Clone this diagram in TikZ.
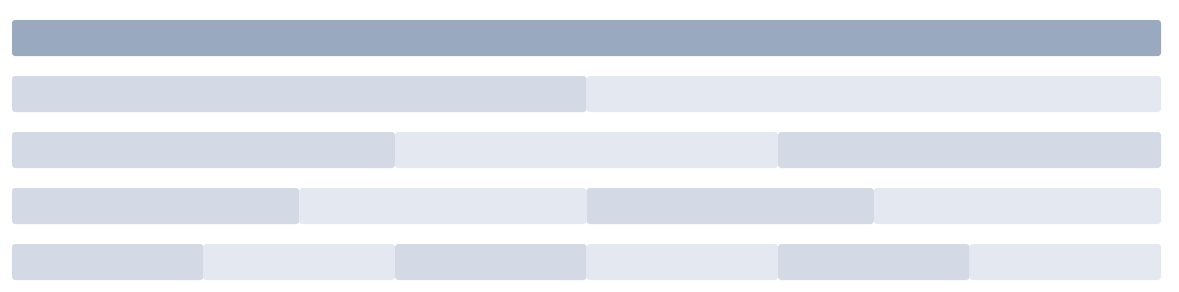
\documentclass[tikz,border=0pt]{standalone}
\definecolor{topc}{RGB}{153,169,192}
\definecolor{darkc}{RGB}{211,218,229}
\definecolor{lightc}{RGB}{227,232,241}
\begin{document}
\begin{tikzpicture}[x=1pt,y=-1pt,
  seg/.style={rounded corners=3pt, inner sep=0pt, outer sep=0pt, minimum height=36pt, draw=none}]
\fill[white] (0,0) rectangle (1179,292);
\useasboundingbox (0,0) rectangle (1179,292);
\node[seg, fill=topc, minimum width=1149pt] (top) at (586.5,38) {};
\foreach \n/\y [count=\r] in {2/94,3/150,4/206,6/262}{
  \pgfmathsetmacro{\w}{1149/\n}
  \foreach \k in {1,...,\n}{
    \pgfmathsetmacro{\cx}{12+(\k-0.5)*\w}
    \pgfmathtruncatemacro{\odd}{mod(\k,2)}
    \ifnum\odd=1 \def\col{darkc}\else\def\col{lightc}\fi
    \node[seg, fill=\col, minimum width=\w pt] (r\r-\k) at (\cx,\y) {};
  }
}
\end{tikzpicture}
\end{document}
